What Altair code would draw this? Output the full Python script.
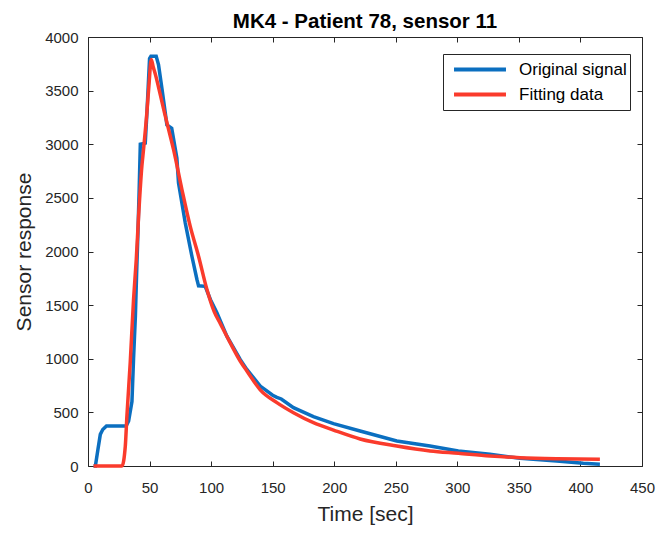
import altair as alt
import pandas as pd

# ---- data ----
t_orig = [4.5, 6, 8, 10, 12, 15, 31, 33, 35.7, 37, 38.5, 39.5, 40.5, 41.5, 42.5,
          46.5, 47.9, 50, 51.1, 55.4, 57.3, 60, 64.1, 68, 72.2, 73.5, 76.3, 79,
          84.4, 88.5, 89.8, 95.2, 99.5, 104.7, 112.8, 123.6, 129, 139.9, 150,
          153.4, 157, 166.9, 183.1, 199.4, 221, 250.8, 277.8, 300.8, 326.5,
          350.9, 380.7, 402.3, 415.8]
v_orig = [0, 0, 150, 295, 340, 373, 373, 420, 600, 1000, 1400, 1800, 2150, 2550, 3000,
          3010, 3300, 3800, 3820, 3820, 3740, 3525, 3180, 3150, 2870, 2640, 2450, 2267,
          1956, 1739, 1680, 1675, 1550, 1429, 1211, 994, 901, 745, 660,
          640, 625, 544, 460, 395, 326, 233, 186, 140, 109,
          72, 47, 25, 16]

t_fit = [4.5, 27.6, 30.3, 31.6, 34.3, 37, 39.2, 41.1, 43.8, 45.1,
         47.9, 49.5, 51.4, 53, 55, 58.7, 62, 65, 69.5, 76.3,
         83, 89.8, 96.6, 102.5, 107.4, 115, 123.6, 130, 139.9, 153.4,
         166.9, 183.1, 199.4, 221, 250.8, 277.8, 300.8, 326.5, 350.9, 380.7,
         415.8]
v_fit = [0, 0, 186, 466, 963, 1553, 1925, 2329, 2800, 2950,
         3307, 3550, 3790, 3720, 3640, 3463, 3300, 3160, 2950, 2578,
         2236, 1956, 1646, 1440, 1330, 1160, 979, 870, 710, 591,
         497, 404, 335, 252, 186, 140, 118, 93, 78, 68,
         62]

series_names = ["Original signal", "Fitting data"]
series_colors = ["#0b6fc0", "#fa3b2c"]
x_ticks = list(range(0, 451, 50))
y_ticks = list(range(0, 4001, 500))

orig_df = pd.DataFrame({"t": t_orig, "v": v_orig, "series": series_names[0]})
fit_df = pd.DataFrame({"t": t_fit, "v": v_fit, "series": series_names[1]})

FONT = "Liberation Sans"
INK = "#262626"

x_scale = alt.Scale(domain=[0, 450], nice=False, zero=False)
y_scale = alt.Scale(domain=[0, 4000], nice=False)

x_axis = alt.Axis(orient="bottom", values=x_ticks, format="d", title="Time [sec]", grid=False,
                  domain=False, offset=-5, tickSize=5, tickColor=INK, tickWidth=1,
                  labelPadding=14, labelFont=FONT, labelFontSize=15, labelColor=INK,
                  labelFlush=False, titleFont=FONT, titleFontSize=21, titleColor=INK,
                  titleFontWeight="normal", titlePadding=8)
y_axis = alt.Axis(orient="left", values=y_ticks, format="d", title="Sensor response", grid=False,
                  domain=False, offset=-5, tickSize=5, tickColor=INK, tickWidth=1,
                  labelPadding=10, labelFont=FONT, labelFontSize=15, labelColor=INK,
                  labelFlush=False, titleFont=FONT, titleFontSize=21, titleColor=INK,
                  titleFontWeight="normal", titlePadding=10)

color = alt.Color(
    "series:N",
    scale=alt.Scale(domain=series_names, range=series_colors),
    legend=alt.Legend(title=None, orient="none", legendX=355, legendY=17,
                      symbolType="stroke", symbolSize=2700, symbolStrokeWidth=4,
                      clipHeight=25, padding=3, symbolOffset=6, labelOffset=11,
                      rowPadding=0, labelFont=FONT, labelFontSize=17, labelColor="black",
                      strokeColor=INK, fillColor="white", cornerRadius=0),
)

blue = alt.Chart(orig_df).mark_line(strokeWidth=3.5, interpolate="linear").encode(
    x=alt.X("t:Q", scale=x_scale, axis=x_axis),
    y=alt.Y("v:Q", scale=y_scale, axis=y_axis),
    color=color,
)
red = alt.Chart(fit_df).mark_line(strokeWidth=3.5, interpolate="monotone").encode(
    x=alt.X("t:Q", scale=x_scale, axis=x_axis),
    y=alt.Y("v:Q", scale=y_scale, axis=y_axis),
    color=color,
)
inner = alt.layer(blue, red)

ghost = alt.Chart(orig_df).mark_line(strokeOpacity=0).encode(
    x=alt.X("t:Q", scale=x_scale,
            axis=alt.Axis(orient="top", values=x_ticks, labels=False, title=None,
                          grid=False, domain=False, offset=-5, tickSize=5,
                          tickColor=INK, tickWidth=1)),
    y=alt.Y("v:Q", scale=y_scale,
            axis=alt.Axis(orient="right", values=y_ticks, labels=False, title=None,
                          grid=False, domain=False, offset=-5, tickSize=5,
                          tickColor=INK, tickWidth=1)),
)

chart = alt.layer(inner, ghost).resolve_axis(x="independent", y="independent").properties(
    width=554,
    height=429,
    title=alt.TitleParams(text="MK4 - Patient 78, sensor 11", font=FONT, fontSize=20.5,
                          fontWeight="bold", color="black", anchor="middle",
                          frame="group", offset=-2),
    padding={"left": 80, "top": 29, "right": 22, "bottom": 60},
    autosize=alt.AutoSizeParams(type="none"),
).configure_view(stroke=INK, strokeWidth=1)

chart.save("out.html", embed_options={"renderer": "svg", "actions": False})
